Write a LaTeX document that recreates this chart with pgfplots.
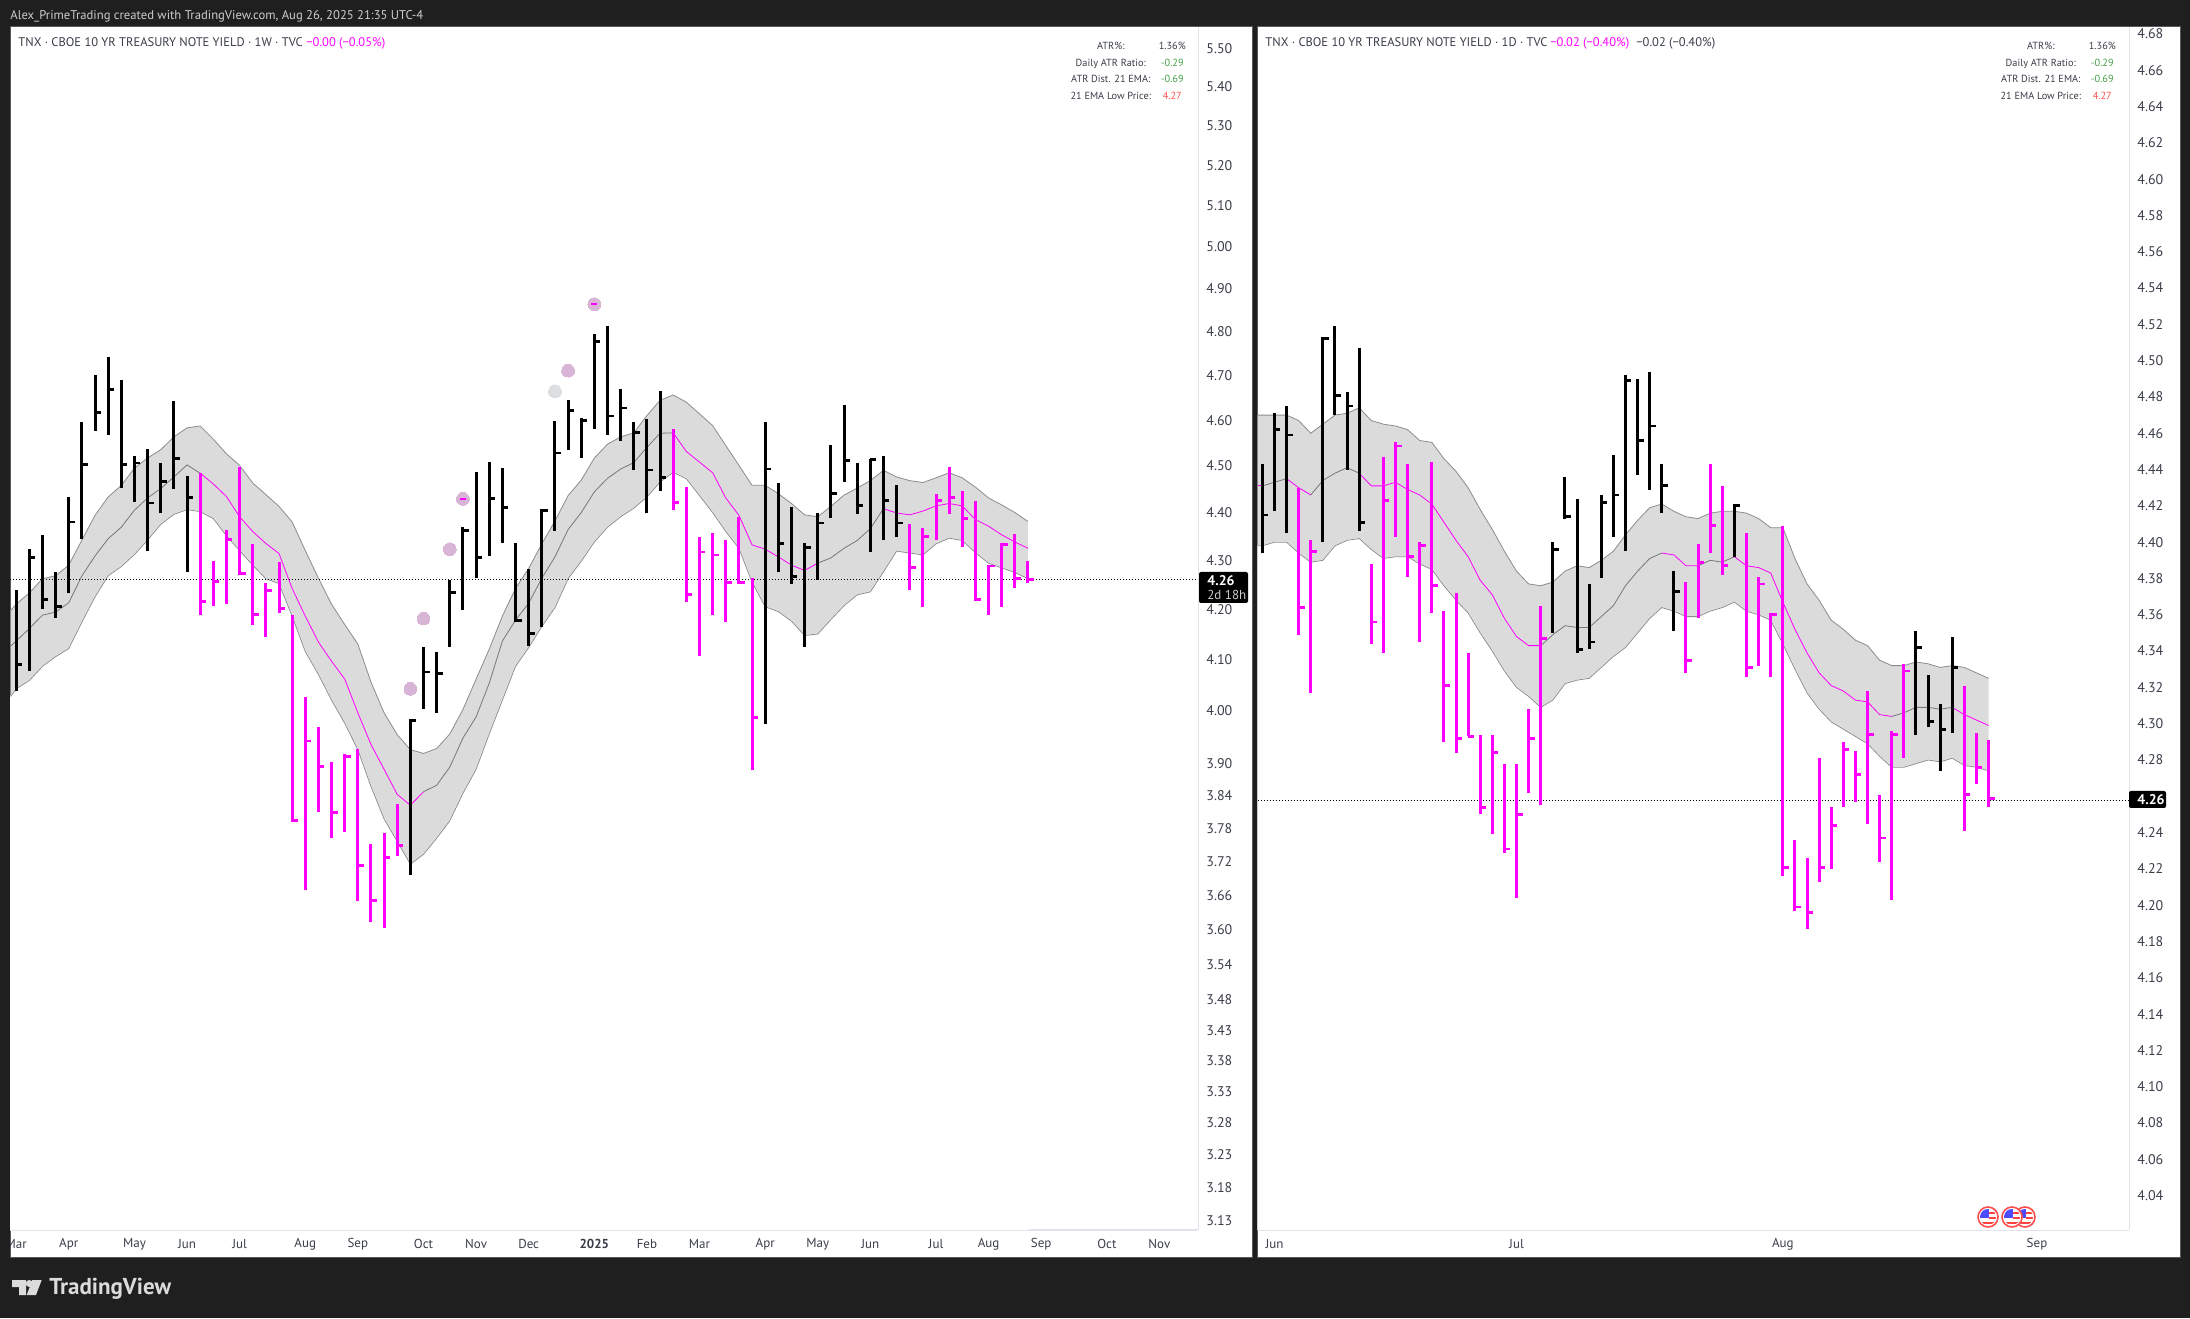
\documentclass[border=0pt]{standalone}
\usepackage{pgfplots}
\usepackage{pgfplotstable}
\usepackage{fontspec}
\setmainfont{PT Sans}
\pgfplotsset{compat=1.18}
\definecolor{bgd}{HTML}{1F1F1F}
\definecolor{bandf}{HTML}{DBDBDB}
\definecolor{bandl}{HTML}{8B8B94}
\definecolor{tv}{HTML}{FF00FF}
\definecolor{axl}{HTML}{E0E3EB}
\definecolor{txt}{HTML}{3A3E49}
\definecolor{dotp}{HTML}{D8B4D6}
\definecolor{dotg}{HTML}{DCDFE2}
\definecolor{gr}{HTML}{43A047}
\definecolor{rd}{HTML}{FF5252}
\pgfdeclareplotmark{ctick}{\pgfpathrectangle{\pgfpoint{0pt}{-0.7pt}}{\pgfpoint{3pt}{1.4pt}}\pgfusepathqfill}
\pgfdeclareplotmark{dash}{\pgfpathrectangle{\pgfpoint{-1.5pt}{-0.4pt}}{\pgfpoint{3pt}{0.8pt}}\pgfusepathqfill}

% WEEKLY
\pgfplotstableread{
x l h c
0 4.038 4.238 4.089
1 4.076 4.323 4.305
2 4.200 4.353 4.220
3 4.183 4.275 4.206
4 4.232 4.433 4.380
5 4.345 4.596 4.502
6 4.577 4.701 4.617
7 4.568 4.742 4.669
8 4.453 4.689 4.502
9 4.422 4.521 4.506
10 4.320 4.536 4.420
11 4.398 4.506 4.466
12 4.449 4.642 4.516
13 4.276 4.478 4.432
30 3.696 3.983 3.982
31 4.003 4.125 4.075
32 3.996 4.115 4.072
33 4.125 4.260 4.234
34 4.199 4.369 4.362
35 4.264 4.486 4.306
36 4.308 4.508 4.430
37 4.336 4.495 4.411
38 4.174 4.336 4.177
39 4.127 4.283 4.151
40 4.164 4.407 4.404
41 4.362 4.599 4.528
42 4.535 4.645 4.622
43 4.518 4.604 4.599
44 4.580 4.794 4.777
45 4.568 4.812 4.609
46 4.554 4.669 4.627
47 4.490 4.596 4.572
48 4.398 4.602 4.491
49 4.446 4.665 4.475
57 3.974 4.596 4.493
58 4.275 4.463 4.335
59 4.251 4.411 4.267
60 4.125 4.336 4.326
61 4.260 4.400 4.378
62 4.389 4.546 4.441
63 4.466 4.634 4.512
64 4.396 4.506 4.415
65 4.318 4.515 4.513
66 4.342 4.521 4.425
67 4.348 4.459 4.378
}\wkblack
\pgfplotstableread{
x l h c
14 4.189 4.484 4.216
15 4.206 4.298 4.257
16 4.211 4.363 4.344
17 4.270 4.497 4.273
18 4.169 4.334 4.189
19 4.144 4.253 4.238
20 4.192 4.297 4.201
21 3.792 4.189 3.794
22 3.669 4.026 3.942
23 3.810 3.970 3.894
24 3.762 3.903 3.809
25 3.773 3.918 3.913
26 3.649 3.927 3.712
27 3.613 3.751 3.651
28 3.603 3.771 3.727
29 3.729 3.824 3.749
50 4.406 4.581 4.421
51 4.215 4.454 4.230
52 4.107 4.349 4.317
53 4.189 4.357 4.311
54 4.174 4.342 4.255
55 4.251 4.391 4.254
56 3.887 4.263 3.987
68 4.238 4.376 4.285
69 4.205 4.367 4.349
70 4.342 4.439 4.426
71 4.396 4.497 4.432
72 4.328 4.445 4.388
73 4.217 4.425 4.220
74 4.189 4.291 4.288
75 4.205 4.335 4.332
76 4.242 4.355 4.263
77 4.254 4.299 4.260
}\wkmag
\pgfplotstableread{
x u m b
-0.43 4.197 4.126 4.027
0 4.210 4.136 4.042
1 4.233 4.161 4.058
2 4.262 4.188 4.086
3 4.268 4.194 4.105
4 4.290 4.213 4.121
5 4.342 4.268 4.174
6 4.394 4.309 4.225
7 4.433 4.345 4.268
8 4.458 4.369 4.287
9 4.495 4.405 4.312
10 4.517 4.431 4.342
11 4.535 4.451 4.375
12 4.563 4.476 4.396
13 4.583 4.502 4.406
14 4.587 4.484 4.402
15 4.558 4.461 4.387
16 4.526 4.434 4.351
17 4.501 4.391 4.320
18 4.463 4.360 4.290
19 4.438 4.335 4.262
20 4.413 4.314 4.252
21 4.380 4.242 4.186
22 4.320 4.186 4.115
23 4.263 4.134 4.070
24 4.210 4.096 4.020
25 4.169 4.061 3.976
26 4.130 3.996 3.926
27 4.055 3.936 3.857
28 3.996 3.889 3.797
29 3.954 3.842 3.756
30 3.926 3.822 3.715
31 3.919 3.847 3.733
32 3.928 3.859 3.762
33 3.956 3.893 3.794
34 4.002 3.948 3.844
35 4.061 3.988 3.889
36 4.120 4.053 3.956
37 4.186 4.136 4.020
38 4.242 4.178 4.086
39 4.283 4.212 4.123
40 4.334 4.263 4.165
41 4.382 4.307 4.203
42 4.436 4.364 4.262
43 4.469 4.400 4.298
44 4.517 4.444 4.338
45 4.547 4.473 4.369
46 4.563 4.493 4.391
47 4.572 4.507 4.409
48 4.610 4.540 4.433
49 4.644 4.571 4.465
50 4.656 4.572 4.486
51 4.640 4.531 4.472
52 4.614 4.508 4.436
53 4.588 4.485 4.400
54 4.544 4.431 4.360
55 4.501 4.394 4.325
56 4.458 4.332 4.255
57 4.458 4.323 4.205
58 4.440 4.307 4.195
59 4.419 4.290 4.176
60 4.395 4.279 4.147
61 4.391 4.294 4.150
62 4.413 4.305 4.179
63 4.437 4.325 4.207
64 4.452 4.341 4.229
65 4.468 4.366 4.235
66 4.490 4.408 4.276
67 4.476 4.399 4.319
68 4.468 4.395 4.315
69 4.464 4.403 4.311
70 4.474 4.414 4.334
71 4.485 4.419 4.346
72 4.474 4.414 4.341
73 4.454 4.385 4.316
74 4.431 4.371 4.294
75 4.416 4.353 4.284
76 4.400 4.338 4.275
77 4.381 4.325 4.262
}\wkband

% DAILY
\pgfplotstableread{
x l h c
0 4.394 4.443 4.415
1 4.417 4.471 4.462
2 4.405 4.475 4.459
5 4.400 4.513 4.512
6 4.470 4.519 4.481
7 4.440 4.483 4.475
8 4.406 4.507 4.411
24 4.350 4.400 4.396
25 4.413 4.436 4.414
26 4.339 4.424 4.341
27 4.341 4.377 4.345
28 4.380 4.426 4.422
29 4.403 4.448 4.426
30 4.395 4.492 4.489
31 4.437 4.490 4.456
32 4.429 4.494 4.464
33 4.416 4.443 4.431
34 4.351 4.384 4.373
39 4.392 4.421 4.420
54 4.294 4.351 4.342
55 4.298 4.327 4.301
56 4.274 4.311 4.297
57 4.295 4.348 4.331
}\dyblack
\pgfplotstableread{
x l h c
3 4.349 4.430 4.364
4 4.317 4.401 4.395
9 4.344 4.388 4.356
10 4.339 4.447 4.423
11 4.403 4.455 4.453
12 4.381 4.443 4.392
13 4.345 4.400 4.398
14 4.361 4.444 4.376
15 4.290 4.362 4.321
16 4.284 4.372 4.292
17 4.293 4.339 4.293
18 4.250 4.294 4.254
19 4.239 4.294 4.284
20 4.229 4.278 4.231
21 4.204 4.278 4.250
22 4.262 4.308 4.292
23 4.255 4.365 4.347
35 4.328 4.378 4.335
36 4.358 4.399 4.389
37 4.394 4.443 4.409
38 4.382 4.431 4.387
40 4.326 4.405 4.331
41 4.332 4.381 4.377
42 4.326 4.361 4.360
43 4.216 4.409 4.221
44 4.197 4.236 4.199
45 4.187 4.226 4.196
46 4.213 4.281 4.221
47 4.220 4.254 4.244
48 4.254 4.290 4.286
49 4.257 4.285 4.272
50 4.245 4.318 4.294
51 4.224 4.261 4.237
52 4.203 4.296 4.294
53 4.281 4.333 4.329
58 4.241 4.321 4.261
59 4.267 4.295 4.276
60 4.254 4.291 4.259
}\dymag
\pgfplotstableread{
x u m b
-0.4 4.470 4.431 4.398
0 4.470 4.431 4.398
1 4.470 4.433 4.400
2 4.470 4.435 4.400
3 4.467 4.430 4.394
4 4.460 4.426 4.389
5 4.465 4.434 4.390
6 4.470 4.438 4.398
7 4.471 4.441 4.401
8 4.474 4.438 4.402
9 4.467 4.431 4.396
10 4.465 4.431 4.391
11 4.464 4.433 4.392
12 4.462 4.429 4.392
13 4.456 4.426 4.388
14 4.455 4.421 4.385
15 4.446 4.411 4.376
16 4.439 4.401 4.368
17 4.430 4.392 4.361
18 4.418 4.379 4.350
19 4.407 4.371 4.340
20 4.395 4.358 4.329
21 4.384 4.348 4.320
22 4.377 4.343 4.315
23 4.376 4.343 4.309
24 4.378 4.349 4.313
25 4.384 4.354 4.322
26 4.387 4.353 4.324
27 4.386 4.353 4.325
28 4.390 4.359 4.331
29 4.395 4.365 4.337
30 4.404 4.376 4.342
31 4.412 4.384 4.350
32 4.419 4.391 4.358
33 4.421 4.394 4.364
34 4.417 4.393 4.362
35 4.414 4.387 4.359
36 4.413 4.387 4.359
37 4.416 4.390 4.362
38 4.417 4.389 4.364
39 4.417 4.392 4.367
40 4.416 4.387 4.362
41 4.413 4.386 4.360
42 4.408 4.383 4.357
43 4.408 4.367 4.344
44 4.391 4.352 4.330
45 4.377 4.339 4.317
46 4.368 4.328 4.308
47 4.357 4.321 4.301
48 4.352 4.318 4.297
49 4.346 4.313 4.293
50 4.343 4.312 4.289
51 4.335 4.305 4.282
52 4.332 4.304 4.276
53 4.332 4.306 4.276
54 4.334 4.309 4.278
55 4.333 4.309 4.280
56 4.331 4.308 4.279
57 4.332 4.309 4.281
58 4.331 4.305 4.277
59 4.328 4.302 4.276
60 4.325 4.299 4.274
}\dyband

\pgfplotsset{
 tvaxis/.style={
  scale only axis, anchor=south west,
  axis x line*=bottom, axis y line*=right,
  axis line style={draw=axl,line width=0.5pt},
  tick style={draw=none}, major tick length=0pt, minor tick length=0pt,
  tick align=outside,
  yticklabel pos=right,
  xticklabel style={font=\fontsize{6.5}{8}\selectfont,text=txt,inner sep=0pt,anchor=center,yshift=-7pt},
  yticklabel style={font=\fontsize{7}{8}\selectfont,text=txt,inner sep=0pt,anchor=west,xshift=4pt},
  clip=true,
 },
 barst/.style={only marks,mark=ctick,color=#1,mark options={fill=#1,draw=none}},
 bandln/.style={bandl,line width=0.4pt,no marks},
 midmag/.style={tv,line width=0.4pt,no marks,restrict x to domain=#1},
 midgry/.style={bandl!85!black,line width=0.4pt,no marks,restrict x to domain=#1},
 dotln/.style={black,line width=0.5pt,dash pattern=on 0.5pt off 1pt,no marks},
}
% one high-low stem per row of the table #1, in colour #2, then the close ticks
\newcommand{\bars}[2]{%
 \pgfplotstablegetrowsof{#1}%
 \pgfmathtruncatemacro\lastrow{\pgfplotsretval-1}%
 \pgfplotsforeachungrouped \r in {0,...,\lastrow}{%
  \pgfplotstablegetelem{\r}{x}\of{#1}\let\xx\pgfplotsretval
  \pgfplotstablegetelem{\r}{l}\of{#1}\let\ll\pgfplotsretval
  \pgfplotstablegetelem{\r}{h}\of{#1}\let\hh\pgfplotsretval
  \edef\tmp{\noexpand\addplot[color=#2,line width=1.5pt,no marks,forget plot] coordinates {(\xx,\ll)(\xx,\hh)};}\tmp
 }%
 \addplot[barst=#2] table[x=x,y=c] {#1};
}
\newcommand{\stat}[1]{%
 \begin{scope}[shift={(#1,0)},every node/.style={inner sep=0pt,anchor=base,font=\fontsize{5.15}{6}\selectfont}]
 \node[text=txt] at (1110.8,49.5) {ATR\%:};
 \node[text=txt] at (1110.8,66.5) {Daily ATR Ratio:};
 \node[text=txt] at (1110.8,83) {ATR Dist. 21 EMA:};
 \node[text=txt] at (1110.8,100) {21 EMA Low Price:};
 \node[text=txt] at (1172.3,49.5) {1.36\%};
 \node[text=gr] at (1172.3,66.5) {-0.29};
 \node[text=gr] at (1172.3,83) {-0.69};
 \node[text=rd] at (1172.3,100) {4.27};
 \end{scope}}
\newcommand{\flag}[2]{%
 \begin{scope}[shift={(#1,#2)}]
 \fill[white] (0,0) circle (10.5);
 \begin{scope}
 \clip (0,0) circle (8);
 \fill[white] (-9,-9) rectangle (9,9);
 \fill[blue!70!white] (-9,-8) rectangle (1,1);
 \fill[red!75!white] (1,-5) rectangle (9,-3);
 \fill[red!75!white] (1,-0.5) rectangle (9,1.5);
 \fill[red!75!white] (-9,4.5) rectangle (9,6.5);
 \end{scope}
 \draw[red!70!white,line width=0.8pt] (0,0) circle (10);
 \end{scope}}

\begin{document}
\begin{tikzpicture}[x=1pt,y=1pt]
\fill[bgd] (0,0) rectangle (1095pt,659pt);
\begin{scope}[x=0.5pt,y=-0.5pt,yshift=659pt]
 \fill[white,draw=gray!70!black,line width=0.5pt] (10,27) rectangle (1252,1257);
 \fill[white,draw=gray!70!black,line width=0.5pt] (1257.5,27) rectangle (2180,1257);
\end{scope}

% ---------- weekly ----------
\begin{axis}[tvaxis,at={(5pt,44pt)},width=594pt,height=601.5pt,
 ymode=log,ymin=3.1152,ymax=5.5585,xmin=-0.472,xmax=89.94,
 ytick={5.5,5.4,5.3,5.2,5.1,5.0,4.9,4.8,4.7,4.6,4.5,4.4,4.3,4.2,4.1,4.0,3.9,3.84,3.78,3.72,3.66,3.6,3.54,3.48,3.43,3.38,3.33,3.28,3.23,3.18,3.13},
 yticklabels={5.50,5.40,5.30,5.20,5.10,5.00,4.90,4.80,4.70,4.60,4.50,4.40,4.30,4.20,4.10,4.00,3.90,3.84,3.78,3.72,3.66,3.60,3.54,3.48,3.43,3.38,3.33,3.28,3.23,3.18,3.13},
 xtick={0,4,9,13,17,22,26,31,35,39,44,48,52,57,61,65,70,74,78,83,87},
 xticklabels={Mar,Apr,May,Jun,Jul,Aug,Sep,Oct,Nov,Dec,\textbf{2025},Feb,Mar,Apr,May,Jun,Jul,Aug,Sep,Oct,Nov},
]
\addplot[fill=bandf,draw=none,no marks] table[x=x,y=u] {\wkband} \closedcycle;
\addplot[fill=white,draw=white,line width=0.6pt,no marks] table[x=x,y=b] {\wkband} \closedcycle;
\addplot[bandln] table[x=x,y=u] {\wkband};
\addplot[bandln] table[x=x,y=b] {\wkband};
\addplot[midgry={-1:14}] table[x=x,y=m] {\wkband};
\addplot[midmag={14:31}] table[x=x,y=m] {\wkband};
\addplot[midgry={31:50}] table[x=x,y=m] {\wkband};
\addplot[midmag={50:61}] table[x=x,y=m] {\wkband};
\addplot[midgry={61:66}] table[x=x,y=m] {\wkband};
\addplot[midmag={66:77}] table[x=x,y=m] {\wkband};
\addplot[dotln] coordinates {(-0.472,4.26)(89.94,4.26)};
\addplot[only marks,color=dotp,mark=*,mark size=3.2pt,mark options={fill=dotp,draw=dotp,line width=0pt}] coordinates {(30,4.042)(31,4.181)(33,4.323)(34,4.429)(42,4.711)(44,4.864)};
\addplot[only marks,color=dotg,mark=*,mark size=3.2pt,mark options={fill=dotg,draw=dotg,line width=0pt}] coordinates {(41,4.664)};
\addplot[only marks,mark=dash,mark options={fill=tv,draw=none}] coordinates {(34,4.429)(44,4.864)};
\bars{\wkblack}{black}
\bars{\wkmag}{tv}
\end{axis}

% ---------- daily ----------
\begin{axis}[tvaxis,at={(628.75pt,44pt)},width=435.75pt,height=601.5pt,
 ymin=4.0211,ymax=4.6838,xmin=-0.4,xmax=71.6,
 ytick={4.68,4.66,4.64,4.62,4.60,4.58,4.56,4.54,4.52,4.50,4.48,4.46,4.44,4.42,4.40,4.38,4.36,4.34,4.32,4.30,4.28,4.24,4.22,4.20,4.18,4.16,4.14,4.12,4.10,4.08,4.06,4.04},
 yticklabels={4.68,4.66,4.64,4.62,4.60,4.58,4.56,4.54,4.52,4.50,4.48,4.46,4.44,4.42,4.40,4.38,4.36,4.34,4.32,4.30,4.28,4.24,4.22,4.20,4.18,4.16,4.14,4.12,4.10,4.08,4.06,4.04},
 xtick={1,21,43,64},
 xticklabels={Jun,Jul,Aug,Sep},
]
\addplot[fill=bandf,draw=none,no marks] table[x=x,y=u] {\dyband} \closedcycle;
\addplot[fill=white,draw=white,line width=0.6pt,no marks] table[x=x,y=b] {\dyband} \closedcycle;
\addplot[bandln] table[x=x,y=u] {\dyband};
\addplot[bandln] table[x=x,y=b] {\dyband};
\addplot[midmag={-1:0}] table[x=x,y=m] {\dyband};
\addplot[midgry={0:2}] table[x=x,y=m] {\dyband};
\addplot[midmag={2:4}] table[x=x,y=m] {\dyband};
\addplot[midgry={4:8}] table[x=x,y=m] {\dyband};
\addplot[midmag={8:23}] table[x=x,y=m] {\dyband};
\addplot[midgry={23:33}] table[x=x,y=m] {\dyband};
\addplot[midmag={33:36}] table[x=x,y=m] {\dyband};
\addplot[midgry={36:39}] table[x=x,y=m] {\dyband};
\addplot[midmag={39:52}] table[x=x,y=m] {\dyband};
\addplot[midgry={52:57}] table[x=x,y=m] {\dyband};
\addplot[midmag={57:60}] table[x=x,y=m] {\dyband};
\addplot[dotln] coordinates {(-0.4,4.2575)(71.6,4.2575)};
\bars{\dyblack}{black}
\bars{\dymag}{tv}
\end{axis}

% ---------- furniture, in image pixels ----------
\begin{scope}[x=0.5pt,y=-0.5pt,yshift=659pt,every node/.style={inner sep=0pt}]
 \fill[bgd] (0,1225) rectangle (9.7,1260);
 \draw[axl,line width=0.5pt] (10,1230) -- (1198,1230);
 \draw[axl,line width=0.5pt] (1257.5,1230) -- (2129,1230);
 \node[anchor=base west,text=white!80!black,font=\fontsize{6.33}{8}\selectfont] at (10,19.5) {Alex\_PrimeTrading created with TradingView.com, Aug 26, 2025 21:35 UTC-4};
 \node[anchor=base west,text=txt,font=\fontsize{6.25}{8}\selectfont] at (18,46.5) {TNX · CBOE 10 YR TREASURY NOTE YIELD · 1W · TVC};
 \node[anchor=base west,text=tv,font=\fontsize{6.25}{8}\selectfont] at (306,46.5) {−0.00 (−0.05\%)};
 \node[anchor=base west,text=txt,font=\fontsize{6.25}{8}\selectfont] at (1265,46.5) {TNX · CBOE 10 YR TREASURY NOTE YIELD · 1D · TVC};
 \node[anchor=base west,text=tv,font=\fontsize{6.25}{8}\selectfont] at (1550,46.5) {−0.02 (−0.40\%)};
 \node[anchor=base west,text=txt,font=\fontsize{6.25}{8}\selectfont] at (1636,46.5) {−0.02 (−0.40\%)};
 \stat{0}
 \stat{930}
 % price labels
 \fill[black,rounded corners=1pt] (1199,572) rectangle (1248,603);
 \node[anchor=base west,text=white,font=\bfseries\fontsize{7}{8}\selectfont] at (1207,586) {4.26};
 \node[anchor=base west,text=white!80!black,font=\fontsize{6.5}{8}\selectfont] at (1207,600) {2d 18h};
 \fill[black,rounded corners=1pt] (2129,791) rectangle (2166,808);
 \node[anchor=base west,text=white,font=\bfseries\fontsize{7}{8}\selectfont] at (2137,804.5) {4.26};
 % flags
 \flag{2025}{1217}
 \flag{2012}{1217}
 \flag{1988}{1217}
 % logo
 \fill[white!86!black] (12,1280) -- (26,1280) -- (26,1295) -- (19,1295) -- (19,1287) -- (12,1287) -- cycle;
 \fill[white!86!black] (29.3,1283.5) circle (3.5);
 \fill[white!86!black] (32.3,1280) -- (41.7,1280) -- (36,1295) -- (26.7,1295) -- cycle;
 \node[anchor=base west,text=white!86!black,font=\bfseries\fontsize{11.5}{12}\selectfont] at (49,1294) {TradingView};
\end{scope}
\pgfresetboundingbox
\useasboundingbox (0,0) rectangle (1095pt,659pt);
\end{tikzpicture}
\end{document}
